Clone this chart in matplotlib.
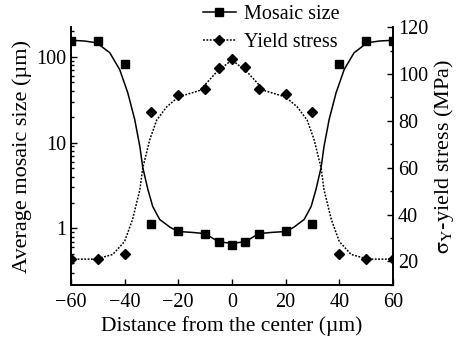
import numpy as np
import matplotlib.pyplot as plt
from matplotlib.ticker import FixedLocator, NullFormatter, LogLocator, MultipleLocator, FuncFormatter

plt.rcParams['font.family'] = ['Liberation Serif', 'DejaVu Serif']
plt.rcParams['mathtext.fontset'] = 'stix'

# Measured points
x_pts = [-60, -50, -40, -30, -20, -10, -5, 0, 5, 10, 20, 30, 40, 50, 60]
mosaic = [153, 150, 81, 1.12, 0.93, 0.87, 0.70, 0.65, 0.70, 0.87, 0.93, 1.14, 82, 150, 150]
stress = [21, 21, 23, 84, 91, 93.6, 102.7, 106.4, 103, 93.6, 91.5, 84, 23, 21, 21]

# Fitted curves
fit_x = [-60, -55, -50.4, -45.5, -41.8, -38.8, -36.2, -34.3, -33.2, -31.3, -29.5, -26.9, -23, -20,
         -15, -10, -5, 0, 5, 10, 15, 20, 23, 26.9, 29.5, 31.3, 33.2, 34.3, 36.2, 38.8, 41.8, 45.5,
         50.4, 55, 60]
fit_mosaic = [155, 152, 145, 111, 70.6, 38, 18.5, 9, 5.1, 2.84, 1.8, 1.27, 1.03, 0.92,
              0.9, 0.87, 0.70, 0.67, 0.70, 0.87, 0.9, 0.92, 1.03, 1.27, 1.8, 2.84, 5.1, 9, 18.5, 38,
              70.6, 111, 145, 152, 155]
fit_sx = [-60, -55, -50.7, -44.4, -40, -37, -34.3, -33.2, -30.6, -28, -24.3, -20, -12, -5.6, 0,
          5.6, 12, 20, 24.3, 28, 30.6, 33.2, 34.3, 37, 40, 44.4, 50.7, 55, 60]
fit_stress = [21, 21, 21, 23, 28.5, 38, 50.6, 60, 72, 80.4, 86, 90.2, 93, 101, 106,
              101, 93, 90.2, 86, 80.4, 72, 60, 50.6, 38, 28.5, 23, 21, 21, 21]

fig = plt.figure(figsize=(4.57, 3.40), dpi=100)
ax1 = fig.add_axes([0.155, 0.162, 0.705, 0.758])
ax2 = ax1.twinx()

ax1.plot(fit_x, fit_mosaic, color='black', lw=1.1)
ax1.plot(x_pts, mosaic, 's', color='black', ms=5.5, ls='none')
ax2.plot(fit_sx, fit_stress, color='black', lw=1.1, ls=(0, (1.2, 1)))
ax2.plot(x_pts, stress, 'D', color='black', ms=5.5, ls='none')

ax1.set_yscale('log')
ax1.set_xlim(-60, 60)
ax1.set_ylim(0.22, 220)
ax2.set_ylim(10, 120)

ax1.set_xticks([-60, -40, -20, 0, 20, 40, 60])
ax1.xaxis.set_major_formatter(FuncFormatter(lambda v, p: f'{int(v)}'.replace('-', '\u2212')))
ax1.yaxis.set_major_locator(FixedLocator([1, 10, 100]))
ax1.yaxis.set_major_formatter(FuncFormatter(lambda v, p: f'{v:g}'))
ax1.yaxis.set_minor_locator(LogLocator(base=10, subs=np.arange(2, 10)))
ax1.yaxis.set_minor_formatter(NullFormatter())
ax2.yaxis.set_major_locator(MultipleLocator(20))
ax2.yaxis.set_minor_locator(MultipleLocator(10))

for a in (ax1, ax2):
    a.spines['top'].set_visible(False)
    a.tick_params(which='both', direction='in', labelsize=14.5, width=1)
    a.tick_params(which='major', length=4)
    a.tick_params(which='minor', length=2)
    for s in a.spines.values():
        s.set_linewidth(1.2)
ax1.tick_params(axis='x', pad=6)

ax1.set_xlabel('Distance from the center (\u00b5m)', fontsize=15.5, labelpad=3)
ax1.set_ylabel('Average mosaic size (\u00b5m)', fontsize=16, labelpad=3)
ax2.set_ylabel(r'$\mathrm{\sigma_Y}$-yield stress (MPa)', fontsize=16, labelpad=3)

h1, = ax1.plot([], [], 's-', color='black', ms=5.5, lw=1.1)
h2, = ax1.plot([], [], 'D', color='black', ms=5.5, lw=1.1, ls=(0, (1.2, 1)))
fig.legend([h1, h2], ['Mosaic size', 'Yield stress'], loc='upper left',
           bbox_to_anchor=(0.445, 0.985), frameon=False, fontsize=14.5, handlelength=1.6,
           handletextpad=0.4, labelspacing=0.45, borderaxespad=0, borderpad=0)

fig.savefig('out.png', dpi=100)
